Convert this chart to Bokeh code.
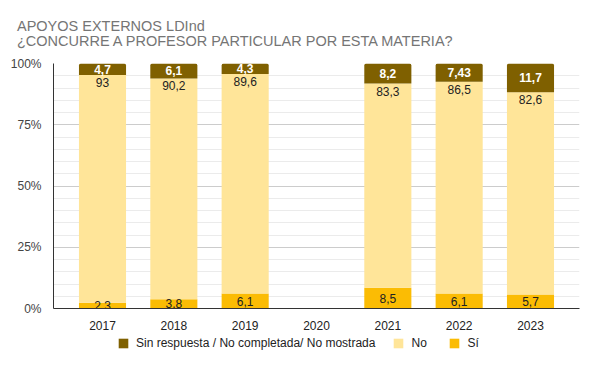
from bokeh.plotting import figure
from bokeh.models import ColumnDataSource, Legend, LegendItem, Range1d, FixedTicker, Div
from bokeh.layouts import column
from bokeh.core.properties import value
from bokeh.embed import file_html
from bokeh.resources import INLINE

years = ["2017", "2018", "2019", "2020", "2021", "2022", "2023"]
si = [2.3, 3.8, 6.1, None, 8.5, 6.1, 5.7]
no = [93, 90.2, 89.6, None, 83.3, 86.5, 82.6]
sin_resp = [4.7, 6.1, 4.3, None, 8.2, 7.43, 11.7]

title_1 = "APOYOS EXTERNOS LDInd"
title_2 = "¿CONCURRE A PROFESOR PARTICULAR POR ESTA MATERIA?"

C_SR = "#7f6000"
C_NO = "#ffe599"
C_SI = "#fbbc04"
FONT = "Liberation Sans"

def fmt(v):
    return f"{v:g}".replace(".", ",")

xs, si_top, no_top, sr_top = [], [], [], []
si_lab, no_lab, sr_lab, si_mid, sr_mid = [], [], [], [], []
for i, y in enumerate(years):
    if si[i] is None:
        continue
    tot = si[i] + no[i] + sin_resp[i]
    a = si[i] / tot * 100
    b = a + no[i] / tot * 100
    xs.append(i)
    si_top.append(a)
    no_top.append(b)
    sr_top.append(100.0)
    si_mid.append(a / 2)
    sr_mid.append((b + 100) / 2)
    si_lab.append(fmt(si[i]))
    no_lab.append(fmt(no[i]))
    sr_lab.append(fmt(sin_resp[i]))

src = ColumnDataSource(dict(x=xs, si_top=si_top, no_top=no_top, sr_top=sr_top,
                            si_mid=si_mid, sr_mid=sr_mid, zero=[0] * len(xs),
                            si_lab=si_lab, no_lab=no_lab, sr_lab=sr_lab))

BL, BR = 53, 15  # shared left/right borders (frames are aligned in the column)

# ---------- title ----------
title_html = (
    '<div style="padding:19px 0 0 17px;font-family:\'Liberation Sans\',Arial,sans-serif;'
    'font-size:14.5px;line-height:15px;color:#757575;white-space:nowrap;margin:0">'
    f'{title_1}<br>{title_2}</div>'
)
top = Div(text=title_html, width=594, height=55, margin=0)

# ---------- main chart ----------
p = figure(frame_width=526, frame_height=245, output_backend="svg", toolbar_location=None,
           x_range=Range1d(-0.687, 6.687), y_range=Range1d(0, 100),
           min_border_left=BL, min_border_right=BR, min_border_top=8, min_border_bottom=25)
p.outline_line_color = None
p.background_fill_color = "white"
p.border_fill_color = "white"

W = 0.66
r_si = p.vbar(x="x", bottom="zero", top="si_top", width=W, source=src, fill_color=C_SI, line_color=None)
r_no = p.vbar(x="x", bottom="si_top", top="no_top", width=W, source=src, fill_color=C_NO, line_color=None)
r_sr = p.vbar(x="x", bottom="no_top", top="sr_top", width=W, source=src, fill_color=C_SR, line_color=None,
              border_radius=(2, 2, 0, 0))

p.text(x="x", y="sr_mid", text="sr_lab", source=src, text_align="center", text_baseline="middle",
       text_color="white", text_font=value(FONT), text_font_size="12px", text_font_style="bold")
p.text(x="x", y="no_top", text="no_lab", source=src, text_align="center", text_baseline="top",
       y_offset=3, text_color="#222222", text_font=value(FONT), text_font_size="12px")
p.text(x="x", y="si_mid", text="si_lab", source=src, text_align="center", text_baseline="middle",
       text_color="#222222", text_font=value(FONT), text_font_size="12px")

p.xaxis.ticker = FixedTicker(ticks=list(range(len(years))))
p.xaxis.major_label_overrides = {i: y for i, y in enumerate(years)}
p.xaxis.major_tick_line_color = None
p.xaxis.minor_tick_line_color = None
p.xaxis.axis_line_color = "#333333"
p.xaxis.major_label_text_font = FONT
p.xaxis.major_label_text_font_size = "12px"
p.xaxis.major_label_text_color = "#222222"
p.xaxis.major_label_standoff = 6

p.yaxis.ticker = FixedTicker(ticks=[0, 25, 50, 75, 100],
                             minor_ticks=[v for v in range(0, 101, 5) if v % 25])
p.yaxis.major_label_overrides = {v: f"{v}%" for v in [0, 25, 50, 75, 100]}
p.yaxis.major_tick_line_color = None
p.yaxis.minor_tick_line_color = None
p.yaxis.axis_line_color = "#333333"
p.yaxis.major_label_text_font = FONT
p.yaxis.major_label_text_font_size = "12px"
p.yaxis.major_label_text_color = "#444444"
p.yaxis.major_label_standoff = 6

p.xgrid.grid_line_color = None
p.ygrid.grid_line_color = "#cccccc"
p.ygrid.minor_grid_line_color = "#ebebeb"
p.ygrid.level = "underlay"

# ---------- legend strip ----------
leg = figure(width=594, height=33, output_backend="svg", toolbar_location=None,
             x_range=Range1d(0, 1), y_range=Range1d(1000, 1001),
             min_border_left=BL, min_border_right=BR, min_border_top=0, min_border_bottom=0)
leg.axis.visible = False
leg.grid.visible = False
leg.outline_line_color = None
l_sr = leg.vbar(x="x", bottom="no_top", top="sr_top", width=W, source=src, fill_color=C_SR, line_color=None)
l_no = leg.vbar(x="x", bottom="si_top", top="no_top", width=W, source=src, fill_color=C_NO, line_color=None)
l_si = leg.vbar(x="x", bottom="zero", top="si_top", width=W, source=src, fill_color=C_SI, line_color=None)

legend = Legend(items=[
    LegendItem(label="Sin respuesta / No completada/ No mostrada", renderers=[l_sr]),
    LegendItem(label="No", renderers=[l_no]),
    LegendItem(label="Sí", renderers=[l_si]),
], orientation="horizontal", location=(64, 16), glyph_width=12, glyph_height=12,
    label_text_font=FONT, label_text_font_size="12px", label_text_color="#222222",
    label_standoff=7, spacing=17, border_line_color=None, background_fill_alpha=0,
    padding=4, margin=0)
leg.add_layout(legend, "center")

layout = column(top, p, leg, spacing=0)
open("out.html", "w").write(file_html(layout, INLINE))
